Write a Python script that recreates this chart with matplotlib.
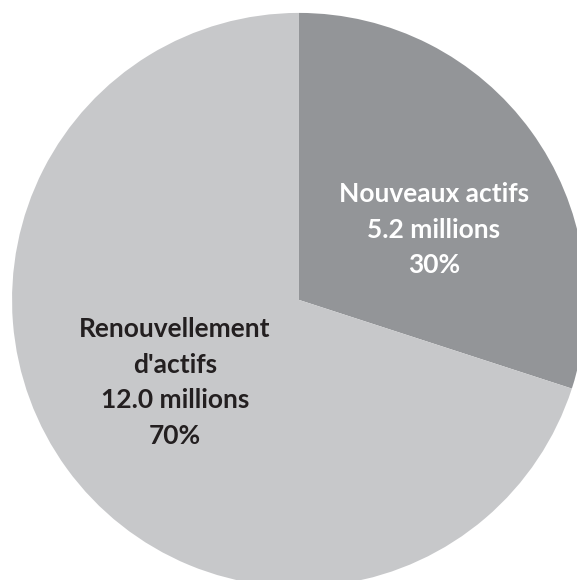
import matplotlib.pyplot as plt

# Data
categories = ["Nouveaux actifs", "Renouvellement\nd'actifs"]
values_millions = [5.2, 12.0]
shares = [30, 70]
colors = ['#939598', '#c7c8ca']
text_colors = ['white', '#231f20']

fig = plt.figure(figsize=(5.77, 5.80), dpi=100)
ax = fig.add_axes([0, 0, 1, 1])

ax.pie(shares, colors=colors, startangle=90, counterclock=False,
       radius=1.0, wedgeprops=dict(linewidth=0))

# axes limits so the pie sits like in the original (slightly cropped right/bottom)
ax.set_xlim(-1.042, 0.969)
ax.set_ylim(-0.976, 1.045)
ax.set_aspect('auto')
ax.axis('off')

label_pos = [(0.470, 0.244), (-0.432, -0.288)]
for cat, val, pct, (x, y), tc in zip(categories, values_millions, shares, label_pos, text_colors):
    txt = f"{cat}\n{val:.1f} millions\n{pct}%"
    ax.text(x, y, txt, ha='center', va='center', fontsize=19, fontweight='bold',
            family='Lato', color=tc, linespacing=1.58)

fig.savefig('out.png', dpi=100)
